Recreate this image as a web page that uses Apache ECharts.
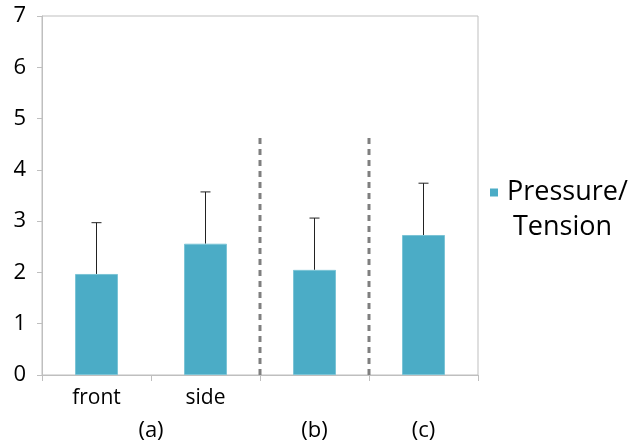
<!DOCTYPE html>
<html><head><meta charset="utf-8">
<script src="https://cdn.jsdelivr.net/npm/echarts@6/dist/echarts.min.js"></script>
<style>html,body{margin:0;padding:0;background:#fff}#c{width:640px;height:444px}</style>
</head><body><div id="c"></div>
<script>
const categories = ['front', 'side', '', ''];
const values = [1.97, 2.56, 2.05, 2.73];
const errorHigh = [2.97, 3.57, 3.06, 3.74];
const groupLabels = ['(a)', '(b)', '(c)'];
const groupPositions = [1, 2.5, 3.5];
const dividerPositions = [2, 3];
const dividerTop = 4.64;
const yTicks = [0, 1, 2, 3, 4, 5, 6, 7];

const font = '"Open Sans", sans-serif';
const chart = echarts.init(document.getElementById('c'));
const dividerSeries = dividerPositions.map(p => ({
  type: 'line', xAxisIndex: 1, yAxisIndex: 0, symbol: 'none', silent: true,
  data: [[p, 0], [p, dividerTop]],
  lineStyle: {color: '#7f7f7f', width: 3, type: [6, 5]}
}));
chart.setOption({
  animation: false,
  grid: {left: 42, right: 162, top: 16, bottom: 69, show: true, borderColor: '#bfbfbf', borderWidth: 1},
  legend: {
    left: 485, top: 174, icon: 'rect', itemWidth: 8, itemHeight: 8,
    data: ['Pressure/Tension'],
    itemStyle: {borderWidth: 0},
    formatter: () => 'Pressure/',
    textStyle: {fontFamily: font, fontSize: 27, color: '#000', padding: [0, 0, 0, 4]}
  },
  graphic: [{type: 'text', left: 513, top: 214, style: {text: 'Tension', font: '27px "Open Sans", sans-serif', fill: '#000'}}],
  xAxis: [{
    type: 'category', data: categories,
    axisLine: {lineStyle: {color: '#bfbfbf'}},
    axisTick: {show: true, length: 6, lineStyle: {color: '#bfbfbf'}},
    axisLabel: {color: '#000', fontFamily: font, fontSize: 21, margin: 13, interval: 0}
  }, {
    type: 'value', min: 0, max: 4, show: true, position: 'bottom',
    axisLine: {show: false}, axisTick: {show: false}, splitLine: {show: false},
    axisLabel: {
      show: true, customValues: groupPositions, margin: 45,
      formatter: v => groupLabels[groupPositions.indexOf(v)],
      color: '#000', fontFamily: font, fontSize: 22
    }
  }],
  yAxis: {
    type: 'value', min: 0, max: 7, interval: 1,
    axisLine: {show: true, lineStyle: {color: '#bfbfbf'}},
    axisTick: {show: true, length: 5, lineStyle: {color: '#bfbfbf'}},
    splitLine: {show: false},
    axisLabel: {color: '#000', fontFamily: font, fontSize: 22, margin: 16, formatter: v => yTicks.includes(v) ? String(v) : ''}
  },
  series: [{
    name: 'Pressure/Tension', type: 'bar', data: values, barWidth: 43,
    itemStyle: {color: '#4BACC6', borderColor: '#7cc4d6', borderWidth: 1}
  }, {
    type: 'custom', silent: true,
    data: values.map((v, i) => [i, v, errorHigh[i]]),
    renderItem: (params, api) => {
      const lo = api.coord([api.value(0), api.value(1)]);
      const hi = api.coord([api.value(0), api.value(2)]);
      const st = {stroke: '#222', lineWidth: 1};
      return {type: 'group', children: [
        {type: 'line', shape: {x1: lo[0], y1: lo[1], x2: hi[0], y2: hi[1]}, style: st},
        {type: 'line', shape: {x1: hi[0] - 5, y1: hi[1], x2: hi[0] + 5, y2: hi[1]}, style: st}
      ]};
    }
  }, ...dividerSeries]
});
</script></body></html>
